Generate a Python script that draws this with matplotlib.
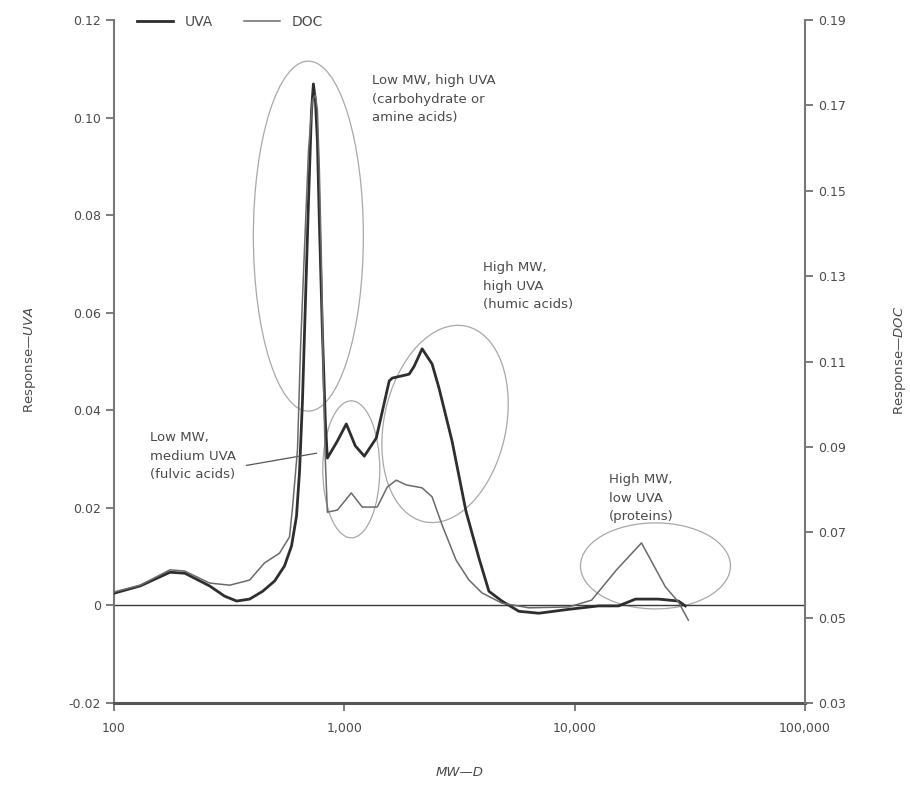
import matplotlib
matplotlib.use("Agg")
import matplotlib.pyplot as plt
from matplotlib.patches import Ellipse
from matplotlib.lines import Line2D
import matplotlib.transforms as mtrans
from matplotlib.ticker import FixedLocator, NullLocator, FixedFormatter

# ---------------- data ----------------
uva_mw = [100, 130, 175, 203, 260, 302, 341, 388, 442, 498, 550, 590, 620, 639,
          658, 678, 699, 720, 734, 749, 764, 779, 803, 827, 844, 933, 1020, 1116,
          1221, 1376, 1566, 1614, 1911, 2009, 2176, 2404, 2578, 2935, 3374, 3841,
          4244, 4831, 5724, 6986, 9420, 12700, 15500, 18370, 23100, 28190, 30240]
uva_resp = [0.0025, 0.0040, 0.0068, 0.0066, 0.0040, 0.0019, 0.0009, 0.0013, 0.0029,
            0.0050, 0.0081, 0.0122, 0.0183, 0.0275, 0.0419, 0.0624, 0.0829, 0.1013,
            0.1069, 0.1034, 0.0952, 0.0788, 0.0562, 0.0378, 0.0302, 0.0337, 0.0372,
            0.0327, 0.0306, 0.0343, 0.0460, 0.0466, 0.0474, 0.0490, 0.0526, 0.0495,
            0.0445, 0.0337, 0.0193, 0.0097, 0.0029, 0.0009, -0.0012, -0.0016,
            -0.0008, -0.0001, -0.0001, 0.0013, 0.0013, 0.0009, -0.0001]

doc_mw = [100, 130, 175, 203, 260, 318, 388, 450, 523, 578, 596, 626, 645, 671,
          699, 727, 749, 764, 779, 795, 811, 827, 844, 933, 1072, 1196, 1390, 1536,
          1680, 1855, 2176, 2404, 2657, 3054, 3477, 3958, 4831, 6322, 9420, 11850,
          15200, 19500, 24770, 28190, 31160]
doc_resp = [0.0560, 0.0576, 0.0612, 0.0609, 0.0581, 0.0576, 0.0588, 0.0628, 0.0651,
            0.0689, 0.0759, 0.0893, 0.1127, 0.1361, 0.1595, 0.1713, 0.1724, 0.1689,
            0.1549, 0.1338, 0.1057, 0.0869, 0.0747, 0.0752, 0.0792, 0.0759, 0.0759,
            0.0806, 0.0822, 0.0811, 0.0804, 0.0783, 0.0717, 0.0635, 0.0588, 0.0558,
            0.0534, 0.0523, 0.0525, 0.0541, 0.0612, 0.0675, 0.0572, 0.0537, 0.0494]

x_ticks = [100, 1000, 10000, 100000]
x_labels = ["100", "1,000", "10,000", "100,000"]
left_ticks = [-0.02, 0.0, 0.02, 0.04, 0.06, 0.08, 0.10, 0.12]
left_labels = ["-0.02", "0", "0.02", "0.04", "0.06", "0.08", "0.10", "0.12"]
right_ticks = [0.03, 0.05, 0.07, 0.09, 0.11, 0.13, 0.15, 0.17, 0.19]
right_labels = ["0.03", "0.05", "0.07", "0.09", "0.11", "0.13", "0.15", "0.17", "0.19"]

# annotation groups: (center MW, center response, width in, height in, angle)
ellipses = [(698, 0.0757, 1.10, 3.50, 0),
            (1072, 0.0279, 0.57, 1.37, 0),
            (2737, 0.0372, 1.22, 2.00, -12),
            (22430, 0.0081, 1.50, 0.86, 0)]
notes = [(1322, 0.1089, "Low MW, high UVA\n(carbohydrate or\namine acids)"),
         (3997, 0.0706, "High MW,\nhigh UVA\n(humic acids)"),
         (143, 0.0357, "Low MW,\nmedium UVA\n(fulvic acids)"),
         (14030, 0.0271, "High MW,\nlow UVA\n(proteins)")]
leader_mw = [376, 757]
leader_resp = [0.0287, 0.0312]

# ---------------- figure ----------------
plt.rcParams['font.family'] = ['DejaVu Sans']
fig = plt.figure(figsize=(9.10, 7.85), dpi=100)
ax = fig.add_axes([114/910, 82/785, 691/910, 683/785])
ax2 = ax.twinx()

txt_col = '#4a4a4a'
uva_col = '#2e2e2e'
doc_col = '#6a6a6a'

ax.plot(uva_mw, uva_resp, color=uva_col, lw=2.0, zorder=4)
ax2.plot(doc_mw, doc_resp, color=doc_col, lw=1.1, zorder=3)
ax.axhline(0, color='#3a3a3a', lw=1.0, zorder=2)

ax.set_xscale('log')
ax.xaxis.set_major_locator(FixedLocator(x_ticks))
ax.xaxis.set_major_formatter(FixedFormatter(x_labels))
ax.xaxis.set_minor_locator(NullLocator())
ax.set_yticks(left_ticks)
ax.set_yticklabels(left_labels)
ax2.set_yticks(right_ticks)
ax2.set_yticklabels(right_labels)

for a in (ax, ax2):
    a.spines['top'].set_visible(False)
    a.tick_params(colors='#666666', labelcolor=txt_col, labelsize=9, length=6, width=1.2)
ax.spines['left'].set_color('#777777'); ax.spines['left'].set_linewidth(1.5)
ax.spines['bottom'].set_color('#555555'); ax.spines['bottom'].set_linewidth(2.2)
ax.spines['right'].set_visible(False)
ax2.spines['left'].set_visible(False)
ax2.spines['bottom'].set_visible(False)
ax2.spines['right'].set_color('#777777'); ax2.spines['right'].set_linewidth(1.5)
ax.tick_params(axis='x', pad=8)

# ellipses drawn in inches around data-coordinate centers
for cx, cy, w, h, ang in ellipses:
    tr = fig.dpi_scale_trans + mtrans.ScaledTranslation(cx, cy, ax.transData)
    e = Ellipse((0, 0), w, h, angle=ang, transform=tr, fill=False,
                edgecolor='#a8a8a8', lw=0.9, clip_on=False, zorder=1)
    ax.add_artist(e)

for nx, ny, s in notes:
    ax.text(nx, ny, s, fontsize=9.5, color=txt_col, va='top', ha='left',
            linespacing=1.55, zorder=5)
ax.plot(leader_mw, leader_resp, color='#555555', lw=0.9, zorder=5)

ax.set_xlim(100, 100000)
ax.set_ylim(-0.02, 0.12)
ax2.set_ylim(0.03, 0.19)

fig.text(30/910, 1 - 360/785, r"Response—$\mathit{UVA}$", rotation=90,
         ha='center', va='center', fontsize=9.5, color=txt_col)
fig.text(900/910, 1 - 360/785, r"Response—$\mathit{DOC}$", rotation=90,
         ha='center', va='center', fontsize=9.5, color=txt_col)
fig.text(460/910, 1 - 772/785, "MW—D", style='italic',
         ha='center', va='center', fontsize=9.5, color=txt_col)

handles = [Line2D([], [], color=uva_col, lw=2.0), Line2D([], [], color=doc_col, lw=1.1)]
fig.legend(handles, ["UVA", "DOC"], loc='center left',
           bbox_to_anchor=(137/910, 1 - 22/785), ncol=2, frameon=False,
           fontsize=10, handlelength=2.6, handletextpad=0.85, columnspacing=2.2,
           borderpad=0, borderaxespad=0, labelcolor=txt_col)

fig.savefig("out.png", dpi=100)
